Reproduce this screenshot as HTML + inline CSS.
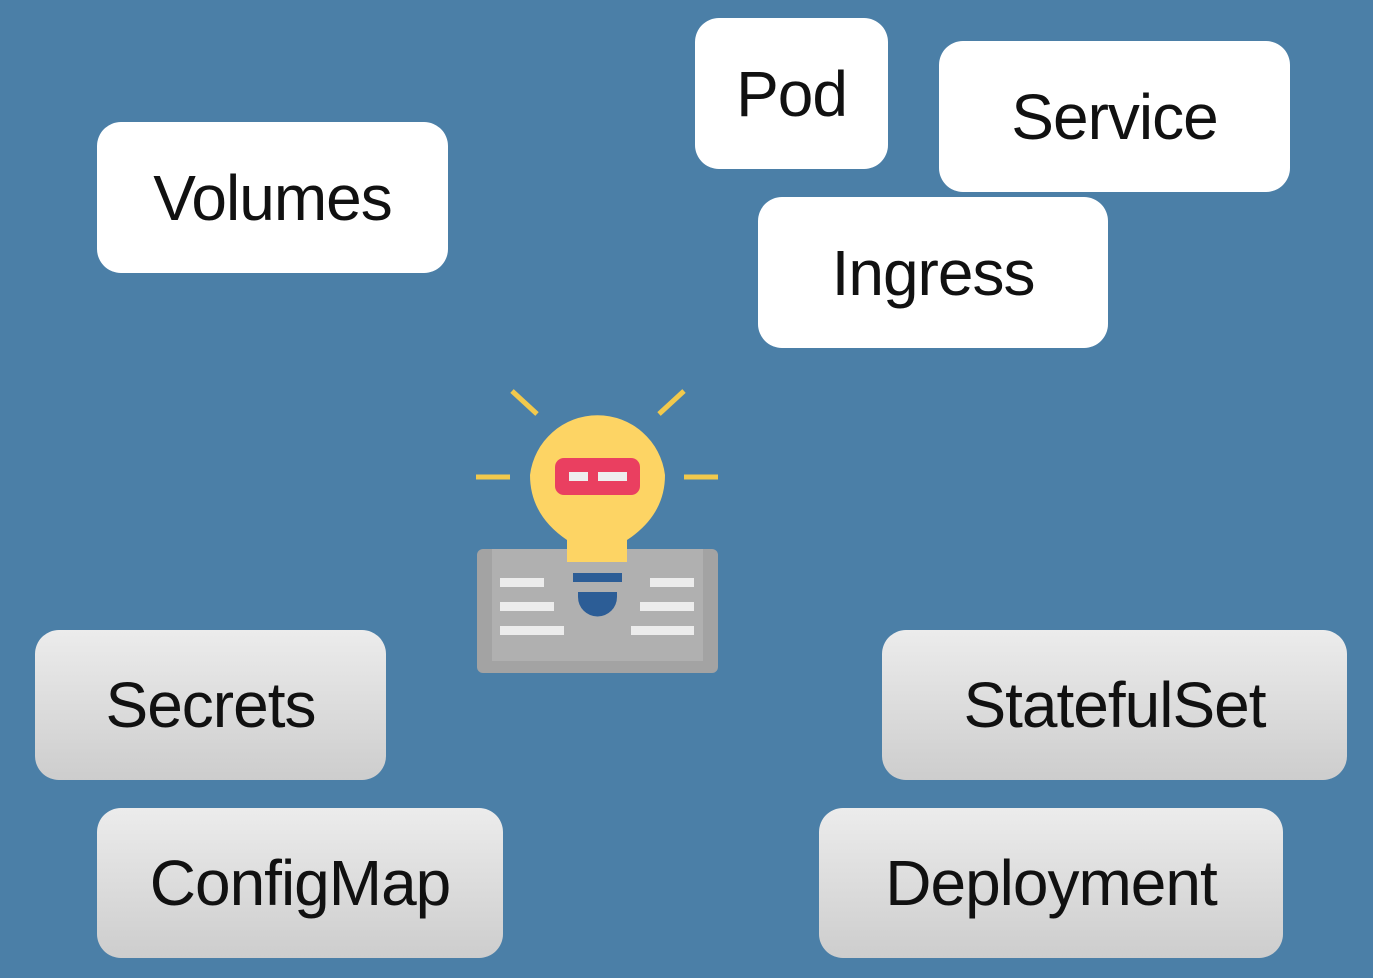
<!DOCTYPE html>
<html><head><style>
html,body{margin:0;padding:0}
body{width:1373px;height:978px;background:#4b7fa7;position:relative;overflow:hidden;font-family:"Liberation Sans",sans-serif}
.b{position:absolute;border-radius:24px;display:flex;align-items:center;justify-content:center;color:#111;font-size:64px;letter-spacing:-1px;box-sizing:border-box}
.w{background:#fff}
.g{background:linear-gradient(#ececec,#cdcdcd)}
</style></head><body>
<div class="b w" style="left:97px;top:122px;width:351px;height:151px">Volumes</div>
<div class="b w" style="left:695px;top:18px;width:193px;height:151px">Pod</div>
<div class="b w" style="left:939px;top:41px;width:351px;height:151px">Service</div>
<div class="b w" style="left:758px;top:197px;width:350px;height:151px">Ingress</div>
<div class="b g" style="left:35px;top:630px;width:351px;height:150px">Secrets</div>
<div class="b g" style="left:882px;top:630px;width:465px;height:150px">StatefulSet</div>
<div class="b g" style="left:97px;top:808px;width:406px;height:150px">ConfigMap</div>
<div class="b g" style="left:819px;top:808px;width:464px;height:150px">Deployment</div>
<svg style="position:absolute;left:0;top:0" width="1373" height="978">
<g stroke="#f2c94c" stroke-width="5">
<line x1="512" y1="391" x2="537" y2="414"/><line x1="684" y1="391" x2="659" y2="414"/>
<line x1="476" y1="477" x2="510" y2="477"/><line x1="684" y1="477" x2="718" y2="477"/>
</g>
<rect x="477" y="549" width="241" height="124" rx="6" fill="#a3a3a3"/>
<rect x="492" y="549" width="211" height="112" fill="#b0b0b0"/>
<g fill="#ececec">
<rect x="500" y="578" width="44" height="9"/><rect x="500" y="602" width="54" height="9"/><rect x="500" y="626" width="64" height="9"/>
<rect x="650" y="578" width="44" height="9"/><rect x="640" y="602" width="54" height="9"/><rect x="631" y="626" width="63" height="9"/>
</g>
<path d="M567 562 L567 540 Q530 515 530 475 A68 68 0 0 1 665 475 Q665 515 627 540 L627 562 Z" fill="#fdd464"/>
<rect x="573" y="573" width="49" height="9" fill="#2c5d96"/>
<path d="M578 592 L617 592 L617 597 A19.5 19.5 0 0 1 578 597 Z" fill="#2c5d96"/>
<rect x="555" y="458" width="85" height="37" rx="9" fill="#ea3f60"/>
<rect x="569" y="472" width="19" height="9" fill="#eee"/><rect x="598" y="472" width="29" height="9" fill="#eee"/>
</svg>
</body></html>
